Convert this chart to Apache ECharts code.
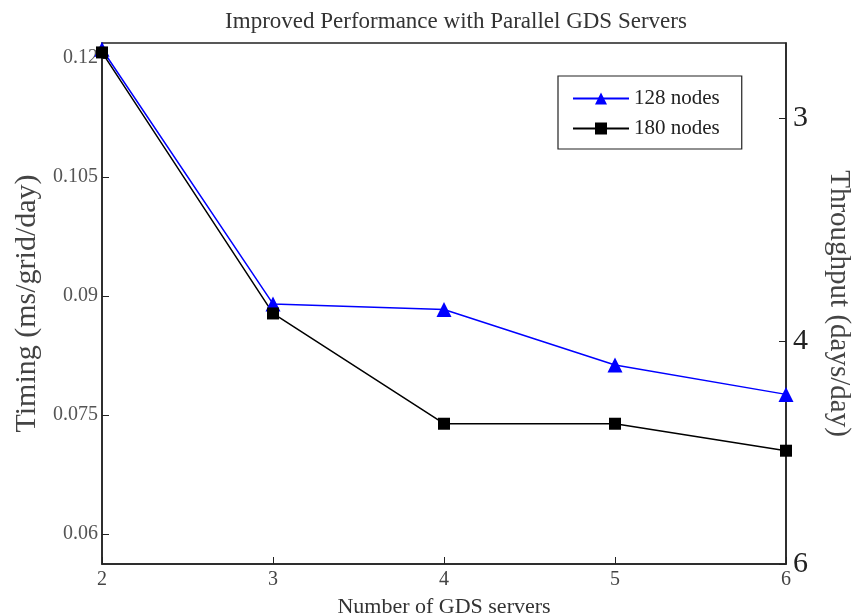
<!DOCTYPE html>
<html>
<head>
<meta charset="utf-8">
<script src="https://cdn.jsdelivr.net/npm/echarts@6/dist/echarts.min.js"></script>
<style>
  html, body { margin: 0; padding: 0; background: #fff; }
  #chart { width: 852px; height: 615px; }
</style>
</head>
<body>
<div id="chart"></div>
<script>
// values
var servers = [2, 3, 4, 5, 6];
var nodes128 = [0.1211, 0.0890, 0.0883, 0.0813, 0.0776];
var nodes180 = [0.1207, 0.0878, 0.0739, 0.0739, 0.0705];
var timingTicks = [0.06, 0.075, 0.09, 0.105, 0.12];
var throughputTicks = [3, 4, 6];

var yMin = 0.05622, yMax = 0.12189;
// throughput is the reciprocal of timing; 6 days/day sits at the bottom
var K = 6 * yMin;
var throughputPos = throughputTicks.map(function (t) { return K / t; });

var serif = '"Liberation Serif", "DejaVu Serif", serif';

var chart = echarts.init(document.getElementById('chart'));
chart.setOption({
    animation: false,
    title: {
        text: 'Improved Performance with Parallel GDS Servers',
        left: 451, top: 5, textAlign: 'center',
        textStyle: {fontFamily: serif, fontSize: 23, fontWeight: 'normal', color: '#333'}
    },
    grid: {left: 102, right: 66, top: 43, bottom: 51, outerBoundsMode: 'none',
        show: true, borderColor: '#222', borderWidth: 1.5},
    legend: {
        left: 558, top: 76, orient: 'vertical',
        padding: [12, 22, 10, 14], itemGap: 9, itemWidth: 56, itemHeight: 15,
        borderColor: '#222', borderWidth: 1.2,
        textStyle: {fontFamily: serif, fontSize: 21, color: '#222'},
        data: ['128 nodes', '180 nodes']
    },
    xAxis: {
        type: 'value', min: 2, max: 6, interval: 1,
        name: 'Number of GDS servers', nameLocation: 'middle', nameGap: 32,
        nameTextStyle: {fontFamily: serif, fontSize: 22, color: '#333'},
        axisLine: {lineStyle: {color: '#222', width: 1.5}},
        axisTick: {inside: true, length: 7, lineStyle: {color: '#222'}},
        axisLabel: {fontFamily: serif, fontSize: 20, color: '#444', margin: 6},
        splitLine: {show: false}
    },
    yAxis: [
        {
            type: 'value', min: yMin, max: yMax, position: 'left',
            name: 'Timing (ms/grid/day)', nameLocation: 'middle', nameGap: 60,
            nameTextStyle: {fontFamily: serif, fontSize: 30, color: '#444'},
            axisLine: {show: true, lineStyle: {color: '#222', width: 1.5}},
            axisTick: {inside: true, length: 7, customValues: timingTicks, lineStyle: {color: '#222'}},
            axisLabel: {
                fontFamily: serif, fontSize: 20, color: '#555', margin: 4,
                customValues: timingTicks,
                formatter: function (v) { return String(+v.toFixed(3)); }
            },
            splitLine: {show: false}
        },
        {
            type: 'value', min: yMin, max: yMax, position: 'right',
            name: 'Throughput (days/day)', nameLocation: 'middle', nameGap: 38, nameRotate: -90,
            nameTextStyle: {fontFamily: serif, fontSize: 29, color: '#444'},
            axisLine: {show: true, lineStyle: {color: '#222', width: 1.5}},
            axisTick: {inside: true, length: 7, lineStyle: {color: '#222'}, customValues: throughputPos},
            axisLabel: {
                fontFamily: serif, fontSize: 30, color: '#222', margin: 7,
                customValues: throughputPos,
                formatter: function (v) { return String(Math.round(K / v)); }
            },
            splitLine: {show: false}
        }
    ],
    series: [
        {
            name: '128 nodes', type: 'line',
            data: servers.map(function (s, i) { return [s, nodes128[i]]; }),
            symbol: 'triangle', symbolSize: 15,
            itemStyle: {color: '#0000ff'},
            lineStyle: {color: '#0000ff', width: 1.5}
        },
        {
            name: '180 nodes', type: 'line',
            data: servers.map(function (s, i) { return [s, nodes180[i]]; }),
            symbol: 'rect', symbolSize: 12,
            itemStyle: {color: '#000'},
            lineStyle: {color: '#000', width: 1.5}
        }
    ]
});
</script>
</body>
</html>
